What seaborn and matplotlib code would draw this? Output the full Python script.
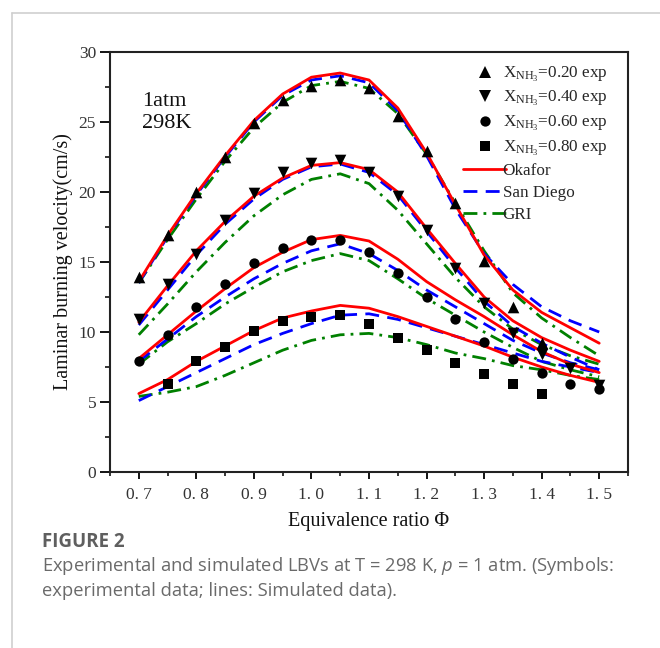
import numpy as np
import pandas as pd
import matplotlib
matplotlib.use("Agg")
import matplotlib.pyplot as plt
import seaborn as sns
from matplotlib.lines import Line2D
from matplotlib.ticker import MultipleLocator

# ---------------- data ----------------
phi_sim = [0.70, 0.75, 0.80, 0.85, 0.90, 0.95, 1.00, 1.05, 1.10,
           1.15, 1.20, 1.25, 1.30, 1.35, 1.40, 1.45, 1.50]

# experiments
phi_exp20 = [0.70, 0.75, 0.80, 0.85, 0.90, 0.95, 1.00, 1.05, 1.10,
             1.15, 1.20, 1.25, 1.30, 1.35, 1.40]
exp20 = [13.9, 16.9, 20.0, 22.5, 24.9, 26.6, 27.6, 28.0, 27.4,
         25.4, 22.9, 19.2, 15.1, 11.8, 9.2]
phi_exp40 = phi_sim
exp40 = [10.9, 13.4, 15.6, 18.0, 19.9, 21.4, 22.1, 22.3, 21.4,
         19.7, 17.3, 14.6, 12.1, 9.9, 8.4, 7.4, 6.2]
phi_exp60 = phi_sim
exp60 = [7.9, 9.8, 11.8, 13.4, 14.9, 16.0, 16.6, 16.6, 15.7,
         14.2, 12.5, 10.9, 9.3, 8.1, 7.1, 6.3, 5.9]
phi_exp80 = [0.75, 0.80, 0.85, 0.90, 0.95, 1.00, 1.05, 1.10,
             1.15, 1.20, 1.25, 1.30, 1.35, 1.40]
exp80 = [6.3, 7.9, 8.9, 10.1, 10.8, 11.1, 11.2, 10.6,
         9.6, 8.7, 7.8, 7.0, 6.3, 5.6]

# simulations: Okafor
okafor20 = [13.6, 16.9, 19.9, 22.6, 25.1, 27.0, 28.2, 28.5, 28.0,
            26.0, 22.8, 19.1, 15.5, 13.0, 11.4, 10.3, 9.2]
okafor40 = [10.7, 13.3, 15.8, 17.9, 19.7, 21.0, 21.9, 22.1, 21.6,
            20.0, 17.4, 14.9, 12.5, 10.8, 9.6, 8.7, 7.9]
okafor60 = [8.1, 9.8, 11.5, 13.1, 14.6, 15.7, 16.6, 16.9, 16.5,
            15.2, 13.6, 12.3, 11.1, 9.8, 8.6, 7.7, 7.1]
okafor80 = [5.6, 6.6, 7.9, 9.0, 10.1, 11.0, 11.5, 11.9, 11.7,
            11.1, 10.4, 9.7, 9.0, 8.2, 7.5, 6.9, 6.4]

# San Diego
sd20 = [13.5, 16.8, 19.8, 22.5, 25.0, 26.9, 28.0, 28.3, 27.8,
        25.8, 22.6, 18.8, 15.6, 13.4, 11.8, 10.8, 10.0]
sd40 = [10.5, 13.0, 15.5, 17.7, 19.5, 20.9, 21.8, 22.0, 21.4,
        19.8, 17.2, 14.6, 12.2, 10.4, 9.2, 8.2, 7.3]
sd60 = [7.9, 9.5, 11.1, 12.5, 13.8, 14.9, 15.8, 16.3, 15.6,
        14.4, 13.0, 11.8, 10.6, 9.4, 8.5, 7.8, 7.3]
sd80 = [5.1, 6.1, 7.1, 8.1, 9.1, 9.9, 10.6, 11.2, 11.3,
        10.9, 10.3, 9.7, 9.1, 8.5, 7.9, 7.5, 7.1]

# GRI
gri20 = [13.5, 16.6, 19.5, 22.2, 24.6, 26.4, 27.6, 27.9, 27.4,
         25.6, 22.7, 19.2, 15.8, 12.8, 11.0, 9.6, 8.3]
gri40 = [9.8, 12.0, 14.3, 16.4, 18.3, 19.8, 20.9, 21.3, 20.6,
         18.7, 16.3, 13.9, 11.8, 10.2, 9.1, 8.3, 7.7]
gri60 = [7.7, 9.3, 10.6, 12.0, 13.2, 14.3, 15.1, 15.6, 15.1,
         13.8, 12.4, 11.2, 10.0, 8.9, 7.9, 7.3, 6.8]
gri80 = [5.4, 5.7, 6.1, 6.9, 7.8, 8.7, 9.4, 9.8, 9.9,
         9.6, 9.1, 8.5, 8.1, 7.6, 7.3, 6.9, 6.6]

exp_labels = [r"$\mathrm{X_{NH_3}}$=0.20 exp", r"$\mathrm{X_{NH_3}}$=0.40 exp",
              r"$\mathrm{X_{NH_3}}$=0.60 exp", r"$\mathrm{X_{NH_3}}$=0.80 exp"]
model_labels = ["Okafor", "San Diego", "GRI"]

x_ticks = [0.7, 0.8, 0.9, 1.0, 1.1, 1.2, 1.3, 1.4, 1.5]
x_ticklabels = ["0. 7", "0. 8", "0. 9", "1. 0", "1. 1", "1. 2", "1. 3", "1. 4", "1. 5"]
y_ticks = [0, 5, 10, 15, 20, 25, 30]

# ---------------- style ----------------
sns.set_style("ticks")
plt.rcParams["font.family"] = ["Liberation Serif", "DejaVu Serif"]
plt.rcParams["mathtext.fontset"] = "custom"
plt.rcParams["mathtext.rm"] = "Liberation Serif"
plt.rcParams["mathtext.it"] = "Open Sans:italic"

fig = plt.figure(figsize=(6.6, 6.48), dpi=100)
ax = fig.add_axes([110 / 660, 1 - 472 / 648, 518 / 660, 420 / 648])

LW = 2.0
model_styles = [
    dict(color="#ff0000", linestyle="-"),
    dict(color="#0000ff", linestyle=(0, (5, 3))),
    dict(color="#008000", linestyle=(0, (5, 2.2, 1, 2.2))),
]
sim_sets = [
    [okafor20, okafor40, okafor60, okafor80],
    [sd20, sd40, sd60, sd80],
    [gri20, gri40, gri60, gri80],
]

# draw GRI first, Okafor on top
for mi in [2, 1, 0]:
    for series in sim_sets[mi]:
        sns.lineplot(x=phi_sim, y=series, ax=ax, estimator=None, sort=False,
                     linewidth=LW, zorder=2 + (2 - mi) * 0.1, **model_styles[mi])

exp_sets = [(phi_exp20, exp20, "^", 70), (phi_exp40, exp40, "v", 70),
            (phi_exp60, exp60, "o", 55), (phi_exp80, exp80, "s", 45)]
for (px, py, mk, sz) in exp_sets:
    sns.scatterplot(x=px, y=py, ax=ax, marker=mk, s=sz, color="black",
                    edgecolor="black", linewidth=0, zorder=5)

ax.set_xlim(0.65, 1.55)
ax.set_ylim(0, 30)
ax.set_xticks(x_ticks)
ax.set_xticklabels(x_ticklabels)
ax.set_yticks(y_ticks)
ax.xaxis.set_minor_locator(MultipleLocator(0.05))
ax.yaxis.set_minor_locator(MultipleLocator(2.5))
ax.tick_params(axis="both", which="major", labelsize=12.5, width=1.3, color="black",
               labelcolor="#333333")
ax.tick_params(axis="y", which="major", length=7, pad=3)
ax.tick_params(axis="x", which="major", length=5, pad=6)
ax.tick_params(axis="y", which="minor", length=3.5, width=1.3)
ax.tick_params(axis="x", which="minor", length=3, width=1.3)
for sp in ax.spines.values():
    sp.set_visible(True)
    sp.set_linewidth(1.5)
    sp.set_color("#222222")

ax.set_xlabel("Equivalence ratio Φ", fontsize=14.5, labelpad=6, color="#111111")
ax.set_ylabel("Laminar burning velocity(cm/s)", fontsize=14.5, labelpad=4, color="#111111")

ax.text(0.062, 0.905, "1atm\n298K", transform=ax.transAxes, fontsize=16,
        va="top", ha="left", linespacing=1.25, color="#111111")

# legend
handles = []
for (px, py, mk, sz) in exp_sets:
    handles.append(Line2D([], [], linestyle="none", marker=mk, color="black",
                          markersize=np.sqrt(sz), markeredgewidth=0))
for mi in range(3):
    handles.append(Line2D([], [], linewidth=LW, **model_styles[mi]))
leg = ax.legend(handles, exp_labels + model_labels, loc="upper left",
                bbox_to_anchor=(0.682, 0.97), frameon=False, fontsize=12.3,
                handlelength=2.5, handletextpad=-0.2, labelspacing=0.33,
                borderpad=0.0, borderaxespad=0.0)

# figure frame lines
fig.add_artist(Line2D([12 / 660, 1.0], [1 - 13 / 648, 1 - 13 / 648],
                      transform=fig.transFigure, color="#cfcfcf", linewidth=1.2))
fig.add_artist(Line2D([12 / 660, 12 / 660], [0, 1 - 13 / 648],
                      transform=fig.transFigure, color="#cfcfcf", linewidth=1.2))

# caption
fig.text(42 / 660, 1 - 547 / 648, "FIGURE 2", fontsize=13.5, fontweight="bold",
         family=["Open Sans", "DejaVu Sans"], color="#5f5f5f", va="baseline")
fig.text(42 / 660, 1 - 571 / 648,
         r"Experimental and simulated LBVs at T = 298 K, $\mathit{p}$ = 1 atm. (Symbols:",
         fontsize=13.2, family=["Open Sans", "DejaVu Sans"], color="#6a6a6a", va="baseline")
fig.text(42 / 660, 1 - 596 / 648, "experimental data; lines: Simulated data).",
         fontsize=13.2, family=["Open Sans", "DejaVu Sans"], color="#6a6a6a", va="baseline")

fig.savefig("out.png", dpi=100)
